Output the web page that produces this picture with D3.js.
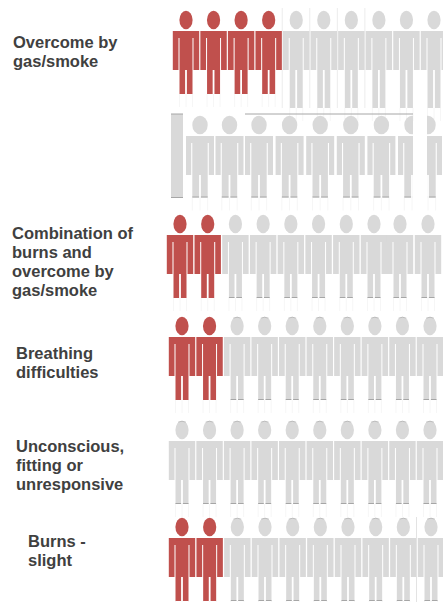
<!DOCTYPE html>
<html>
<head>
<meta charset="utf-8">
<script src="https://cdn.jsdelivr.net/npm/d3@7"></script>
<style>
  html, body { margin: 0; padding: 0; background: #fff; }
  svg { display: block; }
  text { font-family: "Liberation Sans", Arial, sans-serif; font-weight: bold; font-size: 16.5px; fill: #404040; }
</style>
</head>
<body>
<div id="chart"></div>
<script>
// one row per line of icons, the second line carries on from the first
const rowLabels = [
  ['Overcome by', 'gas/smoke'],
  [],
  ['Combination of', 'burns and', 'overcome by', 'gas/smoke'],
  ['Breathing', 'difficulties'],
  ['Unconscious,', 'fitting or', 'unresponsive'],
  ['Burns -', 'slight']
];
const filledIcons = [4, 0, 2, 2, 0, 2];
const iconCounts = [10, 9, 10, 10, 10, 10];

const WIDTH = 443;
const HEIGHT = 602;
const RED = '#c0504d';
const GREY = '#d9d9d9';
const EDGE = '#a6a6a6';
const GHOST = '#f6f6f6';

const svg = d3.select('#chart').append('svg')
  .attr('width', WIDTH)
  .attr('height', HEIGHT);

// the icons were pasted in by hand, so each line has its own little spread
const rowY = d3.scaleOrdinal().domain(d3.range(6)).range([20, 125, 224, 326, 430, 527]);
const labelX = d3.scaleOrdinal().domain(d3.range(6)).range([13, 0, 12, 16, 16, 28]);
const labelY = d3.scaleOrdinal().domain(d3.range(6)).range([48, 0, 239, 359, 452, 547]);
const iconX = [
  d3.scaleLinear().domain([0, 9]).range([186, 434]),
  d3.scaleLinear().domain([0, 2, 7, 8]).range([200, 259, 412, 428]),
  d3.scaleLinear().domain([0, 7, 8, 9]).range([180, 374, 400, 428]),
  d3.scaleLinear().domain([0, 9]).range([182, 430]),
  d3.scaleLinear().domain([0, 9]).range([182, 430]),
  d3.scaleLinear().domain([0, 9]).range([182, 431])
];

function personPath(legEnd, sh, armIn, body) {
  const p = d3.path();
  const top = 11, armEnd = 50, crotch = 0.9;
  p.moveTo(-sh, top);
  p.lineTo(sh, top);
  p.lineTo(sh, armEnd);
  p.lineTo(armIn, armEnd);
  p.lineTo(armIn, 18);
  p.lineTo(body, 18);
  p.lineTo(body, legEnd);
  p.lineTo(crotch, legEnd);
  p.lineTo(crotch, armEnd);
  p.lineTo(-crotch, armEnd);
  p.lineTo(-crotch, legEnd);
  p.lineTo(-body, legEnd);
  p.lineTo(-body, 18);
  p.lineTo(-armIn, 18);
  p.lineTo(-armIn, armEnd);
  p.lineTo(-sh, armEnd);
  p.closePath();
  return p.toString();
}

// second line is cut up in the source picture
svg.append('defs').append('clipPath').attr('id', 'cut-left')
  .append('rect').attr('x', -20).attr('y', -20).attr('width', 21).attr('height', 120);
svg.select('defs').append('clipPath').attr('id', 'cut-right')
  .append('rect').attr('x', -1).attr('y', -20).attr('width', 30).attr('height', 120);

rowLabels.forEach((lines, r) => {
  const g = svg.append('g');
  const big = r === 1;
  const sh = big ? 14 : 13.2;
  const armIn = big ? 8.8 : 7.5;
  const body = big ? 7.7 : 6.5;

  const icons = g.selectAll('g.icon')
    .data(d3.range(iconCounts[r]))
    .join('g')
    .attr('class', 'icon')
    .attr('transform', i => `translate(${iconX[r](i)},${rowY(r)})`)
    .attr('clip-path', i => {
      if (r !== 1) return null;
      if (i === 7) return 'url(#cut-left)';
      if (i === 8) return 'url(#cut-right)';
      return null;
    });

  const filled = i => i < filledIcons[r];
  const legEnd = i => (r === 0 && !filled(i) ? 88 : big ? 72.5 : 74);

  // faint ghost lines under the feet
  icons.append('path')
    .attr('d', i => [-body, 0, body].map(x => `M${x},${legEnd(i)}V${legEnd(i) + 13}`).join(''))
    .attr('stroke', GHOST)
    .attr('fill', 'none');

  icons.append('ellipse')
    .attr('rx', big ? 7.7 : 6.6)
    .attr('ry', big ? 9.3 : 9.2)
    .attr('fill', i => (filled(i) ? RED : GREY));

  icons.append('path')
    .attr('d', i => personPath(legEnd(i), sh, armIn, body))
    .attr('fill', i => (filled(i) ? RED : GREY));

  // darker edge left along the foot of the grey legs
  if (r > 0) {
    icons.filter(i => !filled(i)).append('path')
      .attr('d', i => `M${-body},${legEnd(i) - 0.5}H-0.9M0.9,${legEnd(i) - 0.5}H${body}`)
      .attr('stroke', EDGE)
      .attr('fill', 'none');
  }
  if (r > 2) {
    icons.filter(i => !filled(i)).append('path')
      .attr('d', 'M-4,-7.8Q0,-9.8 4,-7.8')
      .attr('stroke', EDGE)
      .attr('stroke-width', 0.6)
      .attr('fill', 'none');
  }

  g.append('text')
    .selectAll('tspan')
    .data(lines)
    .join('tspan')
    .attr('x', labelX(r))
    .attr('y', (d, i) => labelY(r) + i * 19)
    .text(d => d);
});

// leftover edges of the pasted picture on the second line
const y2 = rowY(1);
svg.append('rect').attr('x', 171).attr('y', y2 - 11).attr('width', 12).attr('height', 84).attr('fill', GREY);
svg.append('line').attr('x1', 171).attr('x2', 183).attr('y1', y2 + 72.5).attr('y2', y2 + 72.5).attr('stroke', EDGE);
svg.append('line').attr('x1', 171).attr('x2', 183).attr('y1', y2 - 11).attr('y2', y2 - 11).attr('stroke', EDGE);
svg.append('line').attr('x1', 245).attr('x2', 413).attr('y1', y2 - 11).attr('y2', y2 - 11).attr('stroke', EDGE);
// faint frame lines behind the top line of icons
svg.insert('g', ':first-child').selectAll('line')
  .data(d3.range(4, 8))
  .join('line')
  .attr('x1', i => iconX[0](i) - 14)
  .attr('x2', i => iconX[0](i) - 14)
  .attr('y1', 8)
  .attr('y2', 108)
  .attr('stroke', '#ececec');
// divider before the last icon of the bottom line
svg.append('line').attr('x1', 416.5).attr('x2', 416.5).attr('y1', rowY(5) - 10).attr('y2', HEIGHT).attr('stroke', '#e3e3e3');
</script>
</body>
</html>
